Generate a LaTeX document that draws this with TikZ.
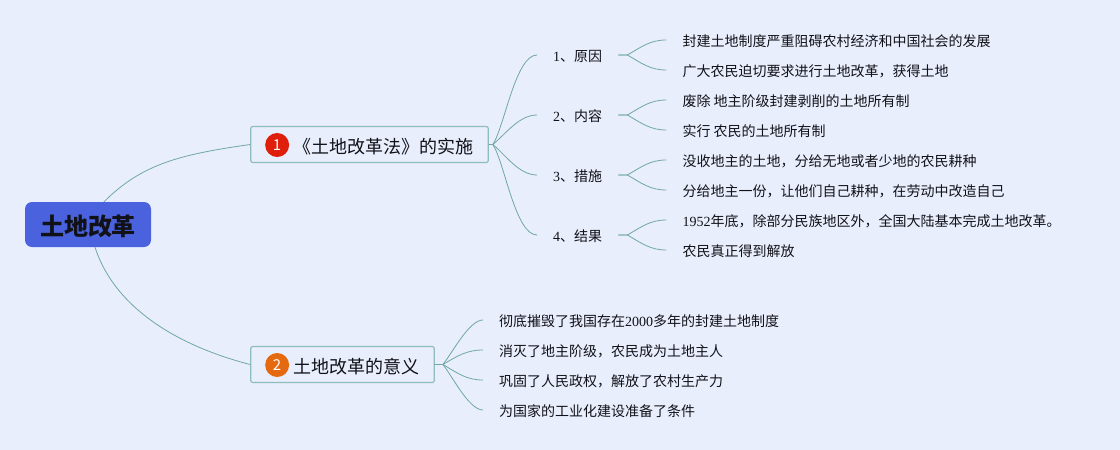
\documentclass[tikz,border=0pt]{standalone}
\usepackage{fontspec}
\setmainfont{Noto Sans CJK SC}
\newfontfamily\numfont{Liberation Serif}
\usepackage{tikz}
\usetikzlibrary{positioning}
\definecolor{PageBlue}{HTML}{E9EEFC}
\definecolor{RootBlue}{HTML}{4A62DE}
\definecolor{TopicEdge}{HTML}{8FBCBC}
\definecolor{LinkTeal}{HTML}{70A6A6}
\definecolor{InkBlack}{HTML}{111118}
\definecolor{IconRed}{HTML}{DF1F0B}
\definecolor{IconOrange}{HTML}{E5690F}
\tikzset{
  % Box styles
  rootbox/.style={rectangle, rounded corners=7pt, fill=RootBlue, minimum width=126pt, minimum height=45pt, inner sep=0pt, text height=22pt, text depth=0pt, font=\fontsize{24}{28}\selectfont\bfseries, text=InkBlack},
  topicbox/.style={rectangle, rounded corners=2pt, draw=TopicEdge, line width=1.2pt, minimum height=36pt, inner xsep=15pt, inner ysep=0pt, text height=18.5pt, text depth=1.5pt, font=\fontsize{18}{22}\selectfont, text=InkBlack},
  subbox/.style={inner xsep=16pt, inner ysep=0pt, text height=15pt, text depth=2pt, font=\fontsize{14}{17}\selectfont, text=InkBlack},
  leafbox/.style={subbox},
  iconnode/.style={circle, inner sep=0pt, minimum size=24pt, text=white, font=\fontsize{15}{18}\selectfont},
  % Arrow styles
  link/.style={LinkTeal, line width=0.8pt},
  fork/.style={LinkTeal, line width=0.8pt, out=#1, in=180},
  fork/.default=30
}
\begin{document}
\begin{tikzpicture}[x=1pt, y=-1pt]
  \useasboundingbox[fill=PageBlue] (0,0) rectangle (1120,450);

  % Main nodes
  \node[rootbox] (root) at (88,224.5) {土地改革};
  \node[topicbox] (t1) at (369.5,144.5) {\hspace*{27.5pt}《土地改革法》的实施};
  \node[topicbox] (t2) at (342.5,364.5) {\hspace*{27.5pt}土地改革的意义};
  \node[iconnode, fill=IconRed] (i1) at ([xshift=27pt, yshift=-0.5pt]t1.west) {1};
  \node[iconnode, fill=IconOrange] (i2) at ([xshift=27pt, yshift=-0.5pt]t2.west) {2};

  % First topic
  \node[subbox, anchor=west] (s1) at (537,55) {{\numfont 1}、原因};
  \node[subbox, anchor=west] (s2) at (537,115) {{\numfont 2}、内容};
  \node[subbox, anchor=west] (s3) at (537,175) {{\numfont 3}、措施};
  \node[subbox, anchor=west] (s4) at (537,235) {{\numfont 4}、结果};

  \node[leafbox, right=48pt of s1, yshift=15pt] (a1) {封建土地制度严重阻碍农村经济和中国社会的发展};
  \node[leafbox, right=48pt of s1, yshift=-15pt] (a2) {广大农民迫切要求进行土地改革，获得土地};
  \node[leafbox, right=48pt of s2, yshift=15pt] (b1) {废除 地主阶级封建剥削的土地所有制};
  \node[leafbox, right=48pt of s2, yshift=-15pt] (b2) {实行 农民的土地所有制};
  \node[leafbox, right=48pt of s3, yshift=15pt] (c1) {没收地主的土地，分给无地或者少地的农民耕种};
  \node[leafbox, right=48pt of s3, yshift=-15pt] (c2) {分给地主一份，让他们自己耕种，在劳动中改造自己};
  \node[leafbox, right=48pt of s4, yshift=15pt] (d1) {{\numfont 1952}年底，除部分民族地区外，全国大陆基本完成土地改革。};
  \node[leafbox, right=48pt of s4, yshift=-15pt] (d2) {农民真正得到解放};

  % Second topic
  \node[leafbox, anchor=west] (e1) at (483,320) {彻底摧毁了我国存在{\numfont 2000}多年的封建土地制度};
  \node[leafbox, below=30pt of e1.west, anchor=west] (e2) {消灭了地主阶级，农民成为土地主人};
  \node[leafbox, below=30pt of e2.west, anchor=west] (e3) {巩固了人民政权，解放了农村生产力};
  \node[leafbox, below=30pt of e3.west, anchor=west] (e4) {为国家的工业化建设准备了条件};

  % Root links
  \draw[link] ([xshift=16pt]root.north) .. controls +(38,-38) and +(-70,10) .. (t1.west);
  \draw[link] ([xshift=7pt]root.south) .. controls +(20,62) and +(-70,-18) .. (t2.west);

  % Topic links
  \draw[link] (t1.east) -- +(4,0) to[fork=57, looseness=0.55] (s1.west);
  \draw[link] (t1.east) -- +(4,0) to[fork=40, looseness=0.85] (s2.west);
  \draw[link] (t1.east) -- +(4,0) to[fork=-40, looseness=0.85] (s3.west);
  \draw[link] (t1.east) -- +(4,0) to[fork=-57, looseness=0.55] (s4.west);
  \draw[link] (t2.east) -- +(8,0) to[fork=50, looseness=0.6] (e1.west);
  \draw[link] (t2.east) -- +(8,0) to[fork=30] (e2.west);
  \draw[link] (t2.east) -- +(8,0) to[fork=-30] (e3.west);
  \draw[link] (t2.east) -- +(8,0) to[fork=-50, looseness=0.6] (e4.west);

  % Leaf links
  \draw[link] (s1.east) -- +(9,0) to[fork=30] (a1.west);
  \draw[link] (s1.east) -- +(9,0) to[fork=-30] (a2.west);
  \draw[link] (s2.east) -- +(9,0) to[fork=30] (b1.west);
  \draw[link] (s2.east) -- +(9,0) to[fork=-30] (b2.west);
  \draw[link] (s3.east) -- +(9,0) to[fork=30] (c1.west);
  \draw[link] (s3.east) -- +(9,0) to[fork=-30] (c2.west);
  \draw[link] (s4.east) -- +(9,0) to[fork=30] (d1.west);
  \draw[link] (s4.east) -- +(9,0) to[fork=-30] (d2.west);
\end{tikzpicture}
\end{document}
